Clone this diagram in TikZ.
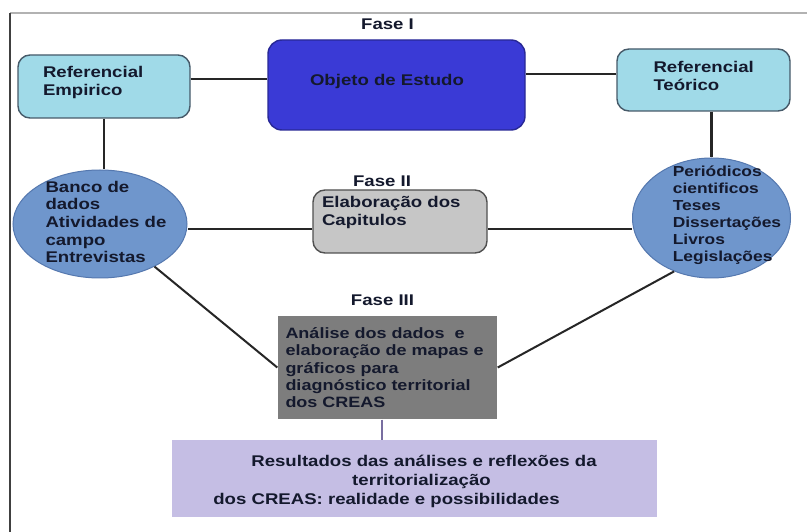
\documentclass[tikz,border=0pt]{standalone}
\usepackage{fontspec}
\setmainfont{Liberation Sans}[FakeStretch=1.2]
\usetikzlibrary{shapes.geometric}

\definecolor{ink}{RGB}{20,25,45}
\definecolor{refcyan}{RGB}{160,218,232}
\definecolor{refline}{RGB}{70,90,105}
\definecolor{objblue}{RGB}{58,58,214}
\definecolor{objline}{RGB}{40,40,150}
\definecolor{ovalblue}{RGB}{111,150,204}
\definecolor{ovalline}{RGB}{85,120,175}
\definecolor{capgrey}{RGB}{198,198,198}
\definecolor{capline}{RGB}{80,80,80}
\definecolor{anagrey}{RGB}{125,125,125}
\definecolor{lilac}{RGB}{197,190,228}
\definecolor{lilacline}{RGB}{120,110,160}

\begin{document}
\begin{tikzpicture}[x=1pt, y=-1pt, thick,
        every node/.style = {font=\bfseries\fontsize{15.5}{17.7}\selectfont, text=ink},
        ref/.style = {draw=refline, line width=1.4pt, fill=refcyan, rounded corners=12pt, align=left, inner ysep=0pt},
        oval/.style = {draw=ovalline, line width=1pt, fill=ovalblue, ellipse, inner sep=0pt},
        txt/.style = {align=left, inner sep=0pt},
        fase/.style = {inner sep=0pt},
        link/.style = {draw=black!85, line width=2.2pt}]
    \path[fill=white, use as bounding box] (0,0) rectangle (807,532);
    \draw[gray!60, line width=2pt] (10,13) -- (807,13);
    \draw[black!75, line width=1.6pt] (10,13) -- (10,532);

    % fases
    \node[fase] (f1) at (387.5,24) {Fase I};
    \node[fase] (f2) at (382,181) {Fase II};
    \node[fase] (f3) at (382.5,300) {Fase III};

    \node[ref, text width=122pt, inner xsep=25pt, text height=23pt, text depth=40pt] (1) at (104,86.5) {Referencial\\Empirico};
    \node[ref, draw=objline, fill=objblue, rounded corners=14pt, text width=173pt, inner xsep=42pt, text height=46pt, text depth=44pt] (2) at (396.5,85) {Objeto de Estudo};
    \node[ref, text width=100pt, inner xsep=36.5pt, text height=24pt, text depth=38pt] (3) at (703.5,80) {Referencial\\Teórico};
    \node[oval, minimum width=174pt, minimum height=108pt,
        label={[txt, xshift=6pt, yshift=2pt]center:Banco de\\dados\\Atividades de\\campo\\Entrevistas}] (4) at (100,224) {};
    \node[oval, minimum width=158pt, minimum height=120pt,
        label={[txt, xshift=15.5pt, yshift=2.3pt, font=\bfseries\fontsize{14.5}{17}\selectfont]center:Periódicos\\cientificos\\Teses\\Dissertações\\Livros\\Legislações}] (5) at (711.5,218) {};
    \node[ref, draw=capline, fill=capgrey, text width=156pt, inner xsep=9pt, text height=18pt, text depth=45pt] (6) at (400,221.5) {Elaboração dos\\Capitulos};
    \node[ref, draw=none, fill=anagrey, sharp corners, text width=204pt, inner xsep=7.5pt, text height=22pt, text depth=81pt,
        font=\bfseries\fontsize{15}{17.5}\selectfont] (7) at (387.5,367.5)
        {Análise dos dados\ \ e\\elaboração de mapas e\\gráficos para\\diagnóstico territorial\\dos CREAS};
    \node[fill=lilac, align=center, text width=440pt, inner xsep=22.5pt, inner ysep=0pt, text height=26pt, text depth=51pt,
        font=\bfseries\fontsize{15.5}{19}\selectfont] (8) at (414.5,478.5)
        {\hspace*{19pt}Resultados das análises e reflexões da\\\hspace*{14pt}territorialização\\dos CREAS: realidade e possibilidades\hspace*{56pt}};

    \draw[link] (1.5) -- (1.5 -| 2.west);
    \draw[link] (3.176) -- (3.176 -| 2.east);
    \draw[link] (1.south) -- (1.south |- 4.north);
    \draw[link] (5.north |- 3.south) -- (5.north);
    \draw[link] (6.185) -- (6.185 -| 4.east);
    \draw[link] (6.-5) -- (6.-5 -| 5.west);
    \draw[link, line width=2pt] (4.-38) -- (7.west);
    \draw[link, line width=2pt] (5.-125) -- (7.east);
    \draw[lilacline, line width=2pt] (7.-96) -- (7.-96 |- 8.north);
\end{tikzpicture}
\end{document}
